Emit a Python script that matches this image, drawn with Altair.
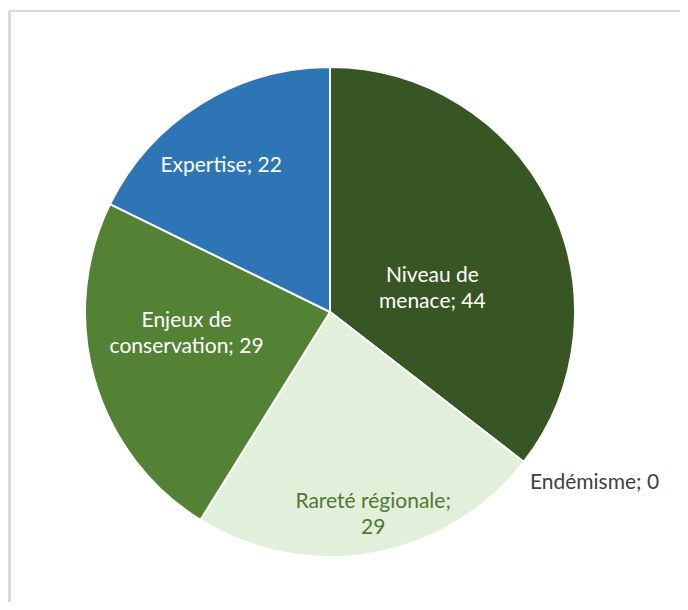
import altair as alt
import pandas as pd

categories = ["Niveau de menace", "Endémisme", "Rareté régionale", "Enjeux de conservation", "Expertise"]
values = [44, 0, 29, 29, 22]
labels = ["Niveau de\nmenace; 44", "Endémisme; 0", "Rareté régionale;\n29", "Enjeux de\nconservation; 29", "Expertise; 22"]
colors = ["#375623", "#70AD47", "#E2EFDA", "#548235", "#2E75B6"]
label_colors = ["#FFFFFF", "#404040", "#4E7A32", "#FFFFFF", "#FFFFFF"]

# label placement styles: (radius, dx, dy)
label_style = [(104, 9, 10), (313, 17, -21), (205, 7, -12), (145, -4, -31), (185, -11, 11)]

W, H = 600, 570
R = 245
FONT = "Lato"

df = pd.DataFrame({
    "cat": categories,
    "val": values,
    "label": labels,
    "idx": list(range(len(categories))),
})

base = alt.Chart(df)

pie = base.mark_arc(radius=R, stroke="white", strokeWidth=2).encode(
    theta=alt.Theta("val:Q", stack=True),
    color=alt.Color("cat:N", scale=alt.Scale(domain=categories, range=colors), legend=None),
    order=alt.Order("idx:Q"),
)

total = sum(values)
layers = [pie]
for i, cat in enumerate(categories):
    r, dx, dy = label_style[i]
    t = (
        base.transform_window(cum="sum(val)", sort=[alt.SortField("idx")])
        .transform_calculate(mid=f"(datum.cum - datum.val/2) / {total} * 2 * PI")
        .transform_calculate(
            lx=f"{W/2} + {r} * sin(datum.mid)",
            ly=f"{H/2} - {r} * cos(datum.mid)",
        )
        .transform_filter(alt.datum.cat == cat)
        .mark_text(
            font=FONT, fontSize=21, lineBreak="\n", lineHeight=26,
            align="center", baseline="middle", dx=dx, dy=dy,
            color=label_colors[i],
        )
        .encode(
            x=alt.X("lx:Q", scale=None),
            y=alt.Y("ly:Q", scale=None),
            text="label:N",
        )
    )
    layers.append(t)

# outer frame of the chart area
frame_color = "#D9D9D9"
frame_left = base.mark_rule(color=frame_color, strokeWidth=2).encode(
    x=alt.value(-20.5), y=alt.value(-16), y2=alt.value(H + 10)
)
frame_top = base.mark_rule(color=frame_color, strokeWidth=1.5).encode(
    x=alt.value(-21), x2=alt.value(W + 60), y=alt.value(-16)
)
layers += [frame_left, frame_top]

chart = alt.layer(*layers).properties(
    width=W, height=H,
    autosize=alt.AutoSizeParams(type="none"),
    padding={"left": 22, "top": 19, "right": 50, "bottom": 5},
).configure_view(stroke=None)

chart.save("out.html", embed_options={"renderer": "svg", "actions": False})
